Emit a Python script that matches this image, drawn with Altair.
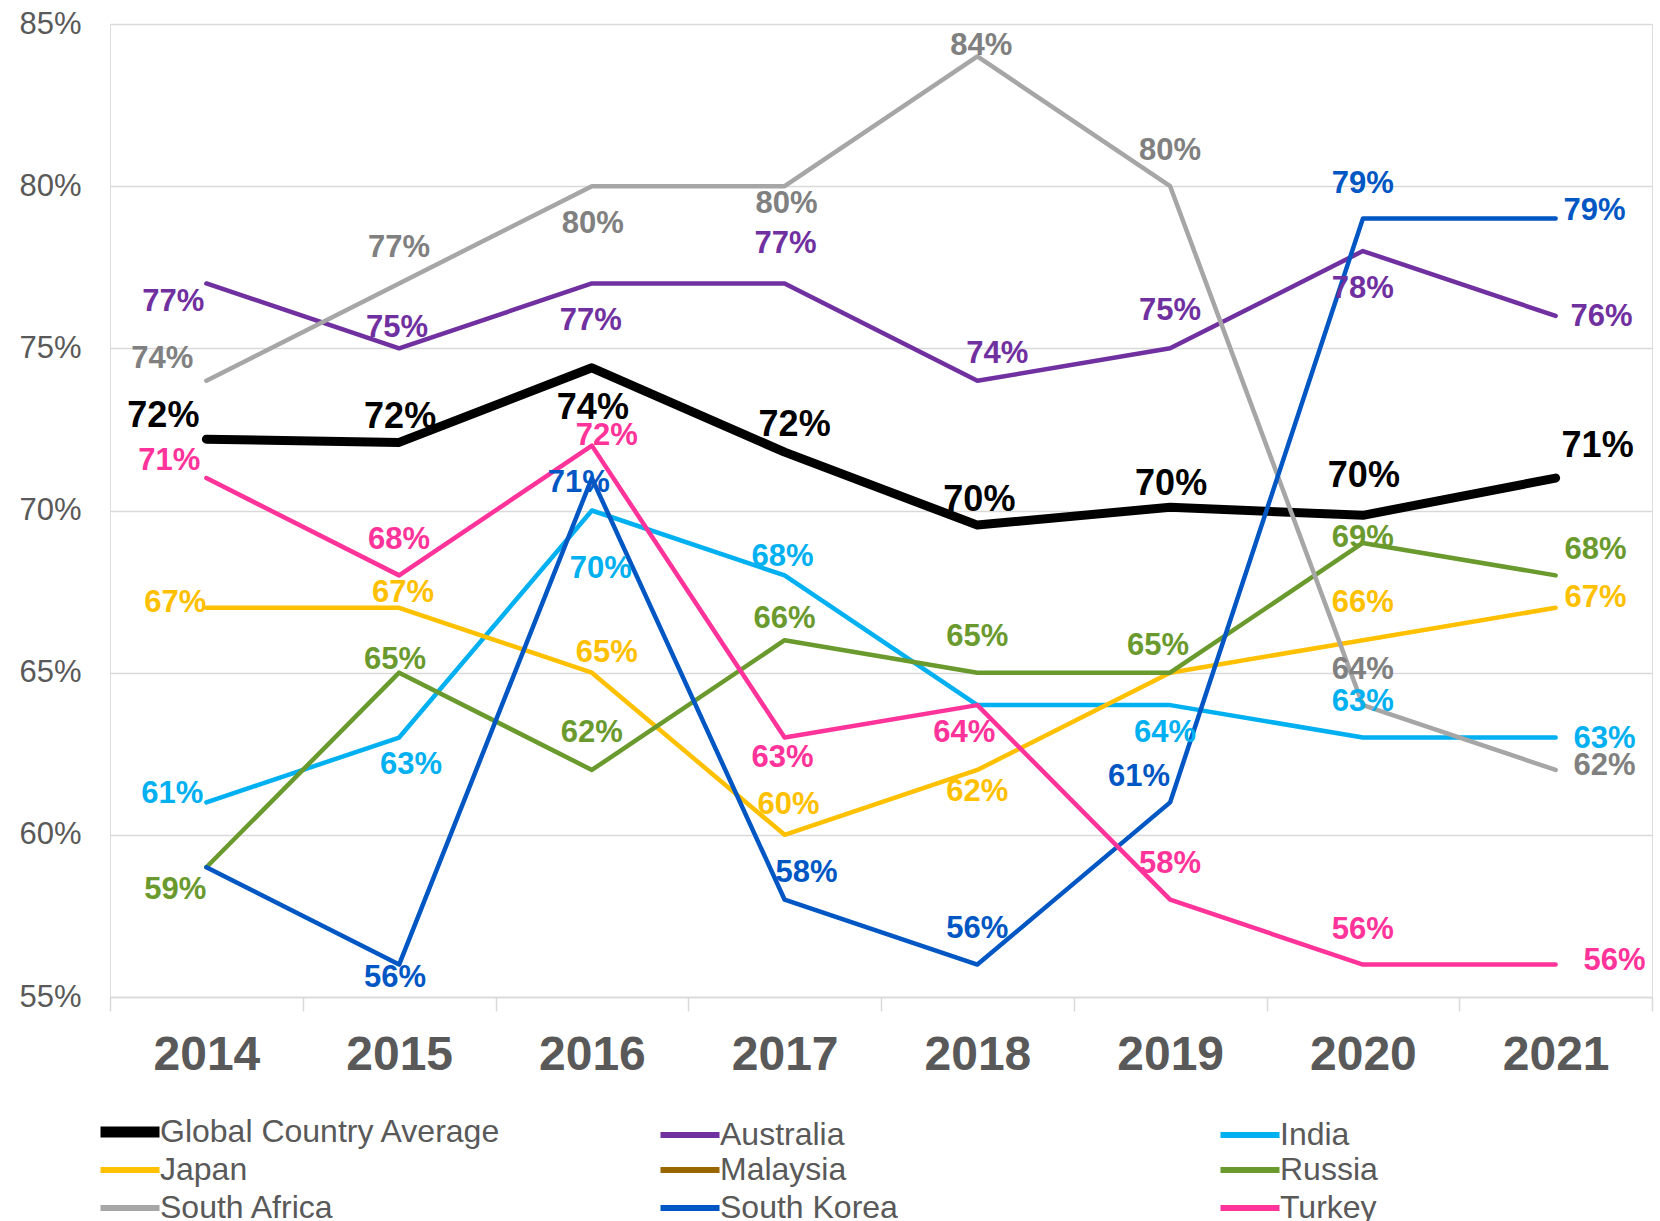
import altair as alt
import pandas as pd

FONT = "Liberation Sans"

years = ["2014", "2015", "2016", "2017", "2018", "2019", "2020", "2021"]
series_names = ["Global Country Average", "Australia", "India", "Japan", "Malaysia",
                "Russia", "South Africa", "South Korea", "Turkey"]

global_avg = [72.2, 72.1, 74.4, 71.8, 69.55, 70.1, 69.85, 71.0]
australia = [77, 75, 77, 77, 74, 75, 78, 76]
india = [61, 63, 70, 68, 64, 64, 63, 63]
japan = [67, 67, 65, 60, 62, 65, 66, 67]
malaysia = []  # listed in the legend, no values plotted
russia = [59, 65, 62, 66, 65, 65, 69, 68]
south_africa = [74, 77, 80, 80, 84, 80, 64, 62]
south_korea = [59, 56, 71, 58, 56, 61, 79, 79]
turkey = [71, 68, 72, 63, 64, 58, 56, 56]

values = {
    "Global Country Average": global_avg, "Australia": australia, "India": india,
    "Japan": japan, "Malaysia": malaysia, "Russia": russia,
    "South Africa": south_africa, "South Korea": south_korea, "Turkey": turkey,
}

# styles
line_colors = ["#000000", "#7030A0", "#00B0F0", "#FFC000", "#996600",
               "#6A9A2E", "#A6A6A6", "#0057C4", "#FF3399"]
label_colors = ["#000000", "#7030A0", "#00B0F0", "#FFC000", "#996600",
                "#6A9A2E", "#808080", "#0057C4", "#FF3399"]

# data-label placement (pixel offset of label centre from its point); None = no label
label_offsets = {
    "Global Country Average": [(-43, -23), (1, -25), (1, 40), (10, -27), (2, -25), (1, -23), (1, -39), (42, -32)],
    "Australia": [(-33, 19), (-2, -20), (-1, 38), (1, -39), (20, -27), (0, -37), (0, 38), (46, 1)],
    "India": [(-34, -8), (12, 27), (9, 58), (-2, -18), None, (-5, 28), (0, -36), (49, 1)],
    "Japan": [(-31, -5), (4, -15), (15, -20), (4, -30), (0, 22), None, (0, -37), (40, -10)],
    "Russia": [(-31, 23), (-4, -13), (0, -37), (0, -21), (0, -36), (-12, -27), (0, -5), (40, -25)],
    "South Africa": [(-44, -22), (0, -35), (1, 38), (2, 18), (4, -10), (0, -35), (0, -35), (49, -4)],
    "South Korea": [None, (-4, 13), (-13, 5), (22, -27), (0, -36), (-31, -25), (0, -35), (39, -8)],
    "Turkey": [(-37, -17), (0, -35), (15, -10), (-2, 20), (-13, 28), (0, -36), (0, -35), (59, -4)],
}

W, H = 1542, 973
Y_MIN, Y_MAX = 55, 85
HALF_BAND = W / len(years) / 2
PX_PER_UNIT = H / (Y_MAX - Y_MIN)

rows = []
for s in series_names:
    offs = label_offsets.get(s, [])
    for i, v in enumerate(values[s]):
        off = offs[i] if i < len(offs) else None
        rows.append(dict(series=s, year=years[i], value=v,
                         show=off is not None,
                         xo=(off[0] if off else 0) + HALF_BAND,
                         yo=(off[1] if off else 0)))
df = pd.DataFrame(rows)

x_enc = alt.X("year:O", sort=years,
              scale=alt.Scale(type="band", paddingInner=0, paddingOuter=0),
              axis=alt.Axis(title=None, labelFont=FONT, labelFontSize=48, labelFontWeight="bold",
                            labelColor="#595959", labelPadding=20, labelAngle=0,
                            tickSize=14, tickColor="#D9D9D9", tickWidth=1.5,
                            domainColor="#D9D9D9", domainWidth=1.5, grid=False,
                            tickBand="extent"))
y_scale = alt.Scale(domain=[Y_MIN, Y_MAX], nice=False, zero=False)
y_axis = alt.Axis(title=None, values=[55, 60, 65, 70, 75, 80, 85],
                  labelExpr="datum.value + '%'", labelFont=FONT, labelFontSize=31,
                  labelColor="#595959", labelPadding=29, ticks=False, tickSize=0,
                  domain=False, gridColor="#D9D9D9", gridWidth=1.5)
y_enc = alt.Y("value:Q", scale=y_scale, axis=y_axis)
y_lab = alt.Y("ly:Q", scale=y_scale, axis=y_axis)

legend = alt.Legend(title=None, orient="none", legendX=4, legendY=1092,
                    direction="horizontal", columns=3, gridAlign="all",
                    columnPadding=147, rowPadding=-6, symbolType="stroke",
                    symbolSize=3481,
                    symbolStrokeWidth=alt.ExprRef(
                        "datum.value === 'Global Country Average' ? 11 : 6"),
                    labelFont=FONT, labelFontSize=32, labelColor="#595959",
                    labelOffset=14, labelLimit=0)

color_enc = alt.Color("series:N", scale=alt.Scale(domain=series_names, range=line_colors),
                      legend=legend)
fill_enc = alt.Fill("series:N", scale=alt.Scale(domain=series_names, range=label_colors),
                    legend=None)

base = alt.Chart(df)

avg_line = base.transform_filter(alt.datum.series == "Global Country Average").mark_line(
    strokeWidth=9, strokeCap="round", strokeJoin="round").encode(x=x_enc, y=y_enc, color=color_enc)

country_lines = base.transform_filter(alt.datum.series != "Global Country Average").mark_line(
    strokeWidth=4.5, strokeCap="round", strokeJoin="round").encode(x=x_enc, y=y_enc, color=color_enc)

label_base = base.transform_filter(alt.datum.show).transform_calculate(
    label="round(datum.value) + '%'",
    ly=f"datum.value - datum.yo / {PX_PER_UNIT}")

avg_labels = label_base.transform_filter(alt.datum.series == "Global Country Average").mark_text(
    font=FONT, fontSize=36, fontWeight="bold", align="center", baseline="middle").encode(
    x=x_enc, y=y_lab,
    xOffset=alt.XOffset("xo:Q", scale=None),
    text="label:N", fill=fill_enc)

country_labels = label_base.transform_filter(alt.datum.series != "Global Country Average").mark_text(
    font=FONT, fontSize=31, fontWeight="bold", align="center", baseline="middle").encode(
    x=x_enc, y=y_lab,
    xOffset=alt.XOffset("xo:Q", scale=None),
    text="label:N", fill=fill_enc)

chart = alt.layer(avg_line, country_lines, avg_labels, country_labels).properties(
    width=W, height=H,
    padding={"left": 110, "top": 24, "right": 8, "bottom": 224},
    autosize=alt.AutoSizeParams(type="none"),
).configure_view(stroke=None).configure(font=FONT)

chart.save("out.html", embed_options={"renderer": "svg", "actions": False})
